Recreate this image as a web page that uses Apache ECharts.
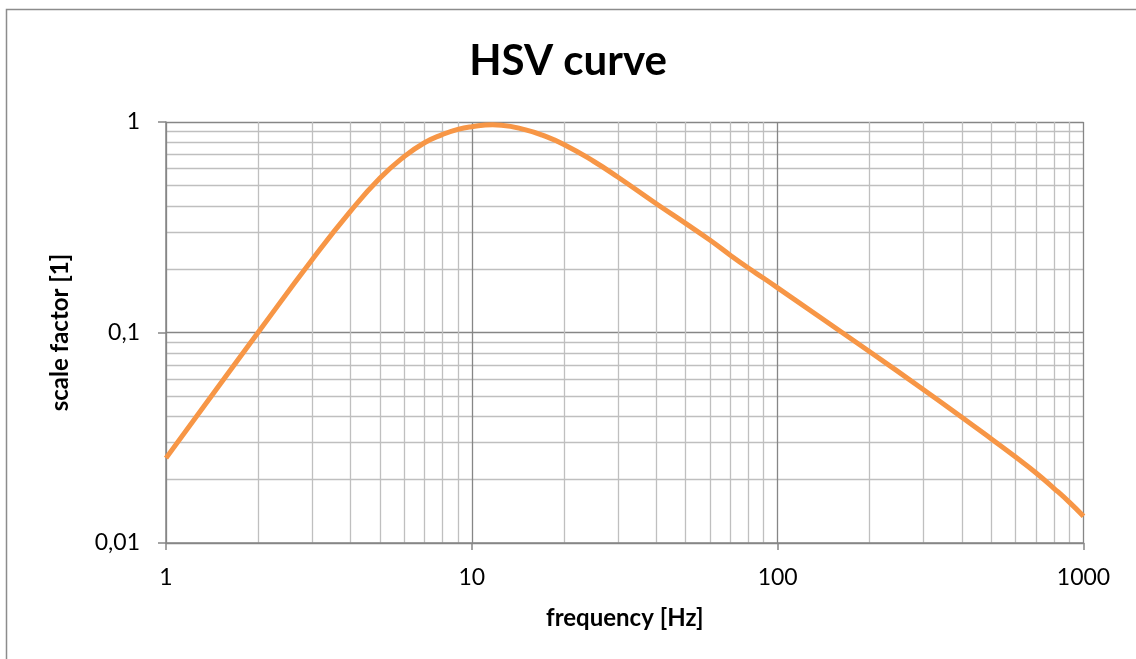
<!DOCTYPE html>
<html>
<head>
<meta charset="utf-8">
<script src="https://cdn.jsdelivr.net/npm/echarts@6/dist/echarts.min.js"></script>
<style>html,body{margin:0;padding:0;background:#fff;}#c{width:1136px;height:659px;}</style>
</head>
<body>
<div id="c"></div>
<script>
const frequencies = [1, 1.5, 2, 3, 4, 5, 6, 7, 8, 9, 10, 11.7, 12.5, 15, 17, 20, 25, 30, 40, 50, 60, 70, 80, 90, 100, 200, 300, 400, 500, 600, 700, 800, 900, 1000];
const scaleFactors = [0.0253, 0.0566, 0.100, 0.221, 0.375, 0.540, 0.684, 0.797, 0.871, 0.923, 0.950, 0.970, 0.966, 0.918, 0.866, 0.782, 0.651, 0.548, 0.410, 0.330, 0.275, 0.233, 0.203, 0.181, 0.163, 0.081, 0.0535, 0.0396, 0.0312, 0.0256, 0.0215, 0.0182, 0.0156, 0.0134];
const xTickLabels = ['1', '10', '100', '1000'];
const yTickLabels = ['0,01', '0,1', '1'];

const chart = echarts.init(document.getElementById('c'));
const font = 'Lato, "Open Sans", sans-serif';
const major = '#868686';
const minor = '#bfbfbf';
chart.setOption({
  animation: false,
  title: {
    text: 'HSV curve', left: 'center', top: 35,
    textStyle: {fontFamily: font, fontSize: 42, fontWeight: 'bold', color: '#000'}
  },
  graphic: [{type: 'rect', shape: {x: 6.5, y: 9.5, width: 1140, height: 660}, style: {fill: 'none', stroke: '#8c8c8c', lineWidth: 1.5}, silent: true}],
  grid: {left: 166, right: 52.5, top: 122, bottom: 116},
  xAxis: {
    type: 'log', logBase: 10, min: 1, max: 1000,
    name: 'frequency [Hz]', nameLocation: 'middle', nameGap: 63,
    nameTextStyle: {fontFamily: font, fontSize: 24, fontWeight: 'bold', color: '#000'},
    axisLine: {show: true, lineStyle: {color: major, width: 1.5}},
    axisTick: {show: true, length: 7, lineStyle: {color: major, width: 1.5}},
    axisLabel: {fontFamily: font, fontSize: 23, color: '#000', margin: 23,
      formatter: v => { const i = Math.round(Math.log10(v)); return xTickLabels[i] || ''; }},
    splitLine: {show: true, lineStyle: {color: major, width: 1.3}},
    minorTick: {show: false, splitNumber: 9},
    minorSplitLine: {show: true, lineStyle: {color: minor, width: 1.3}}
  },
  yAxis: {
    type: 'log', logBase: 10, min: 0.01, max: 1,
    name: 'scale factor [1]', nameLocation: 'middle', nameGap: 94,
    nameTextStyle: {fontFamily: font, fontSize: 24, fontWeight: 'bold', color: '#000'},
    axisLine: {show: true, lineStyle: {color: major, width: 1.5}},
    axisTick: {show: true, length: 8, lineStyle: {color: major, width: 1.5}},
    axisLabel: {fontFamily: font, fontSize: 23, color: '#000', margin: 26,
      formatter: v => { const i = Math.round(Math.log10(v)) + 2; return yTickLabels[i] || ''; }},
    splitLine: {show: true, lineStyle: {color: major, width: 1.3}},
    minorTick: {show: false, splitNumber: 9},
    minorSplitLine: {show: true, lineStyle: {color: minor, width: 1.3}}
  },
  series: [{
    type: 'line', smooth: 0.5, symbol: 'none',
    data: frequencies.map((f, i) => [f, scaleFactors[i]]),
    lineStyle: {color: '#F79646', width: 5}
  }]
});
</script>
</body>
</html>
